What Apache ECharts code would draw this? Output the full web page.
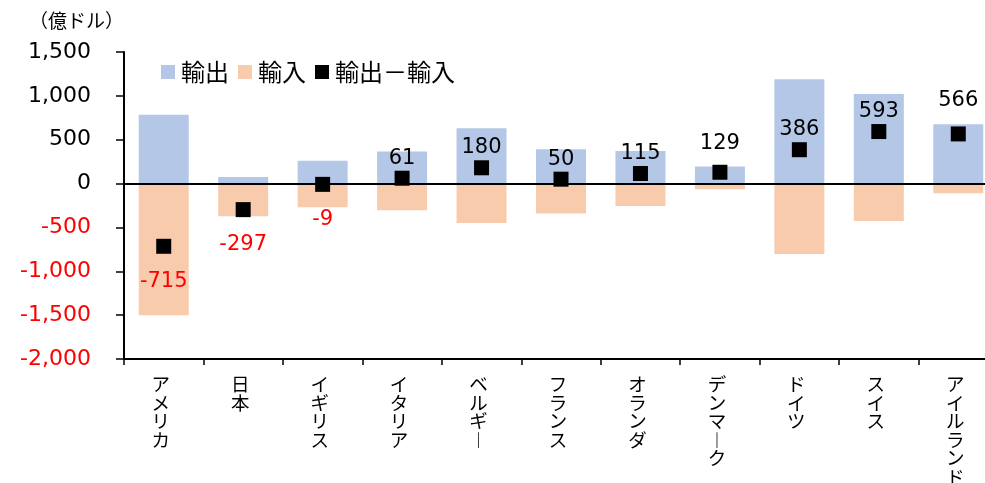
<!DOCTYPE html>
<html>
<head>
<meta charset="utf-8">
<script src="https://cdn.jsdelivr.net/npm/echarts@6/dist/echarts.min.js"></script>
<style>html,body{margin:0;padding:0;background:#fff;}#c{width:985px;height:483px;}</style>
</head>
<body>
<div id="c"></div>
<script>
const categories = ['アメリカ','日本','イギリス','イタリア','ベルギー','フランス','オランダ','デンマーク','ドイツ','スイス','アイルランド'];
const exportsVals = [785, 75, 260, 365, 630, 390, 370, 195, 1190, 1020, 675];
const importsVals = [-1500, -372, -269, -304, -450, -340, -255, -66, -804, -427, -109];
const netVals = [-715, -297, -9, 61, 180, 50, 115, 129, 386, 593, 566];
const yTicks = {min: -2000, max: 1500, interval: 500};
const seriesNames = ['輸出', '輸入', '輸出－輸入'];

const labelLift = {'デンマーク': 9, 'アイルランド': 13};
const JP = 'Noto Sans CJK JP';
const NUM = 'DejaVu Sans';

const chart = echarts.init(document.getElementById('c'), null, {renderer: 'canvas'});

const netData = netVals.map((v, i) => ({
  value: v,
  label: {
    position: v < 0 ? 'bottom' : 'top',
    distance: v < 0 ? 17 : 2 + (labelLift[categories[i]] || 0),
    color: v < 0 ? '#FF0000' : '#000000'
  }
}));

chart.setOption({
  animation: false,
  backgroundColor: '#ffffff',
  graphic: [{
    type: 'text', left: 29, top: 11,
    style: {text: '（億ドル）', fontSize: 19, fontFamily: JP, fill: '#000'}
  }],
  legend: {
    left: 156, top: 55,
    itemWidth: 14, itemHeight: 14, itemGap: 9,
    icon: 'rect',
    textStyle: {fontSize: 24, fontFamily: JP, color: '#000', padding: [0, 0, 0, 1]},
    data: seriesNames
  },
  grid: {left: 124, top: 52, width: 874, height: 307, outerBoundsMode: 'none', containLabel: false},
  xAxis: {
    type: 'category',
    data: categories,
    position: 'bottom',
    axisLine: {onZero: false, lineStyle: {color: '#000', width: 2}},
    axisTick: {show: true, length: 6, lineStyle: {color: '#000', width: 1.5}},
    axisLabel: {
      interval: 0,
      margin: 16,
      fontSize: 18.5,
      lineHeight: 18.5,
      fontFamily: JP,
      color: '#000',
      padding: [0, 6, 0, 0],
      formatter: v => v.split('').map(c => c === 'ー' ? '︱' : c).join('\n')
    },
    splitLine: {show: false}
  },
  yAxis: {
    type: 'value',
    min: yTicks.min, max: yTicks.max, interval: yTicks.interval,
    axisLine: {show: true, lineStyle: {color: '#000', width: 2}},
    axisTick: {show: true, length: 8, lineStyle: {color: '#000', width: 1.5}},
    splitLine: {show: false},
    axisLabel: {
      margin: 33,
      fontSize: 22,
      fontFamily: NUM,
      color: v => (v < 0 ? '#FF0000' : '#000000'),
      formatter: v => v.toLocaleString('en-US')
    }
  },
  series: [
    {
      name: seriesNames[0], type: 'bar', data: exportsVals,
      barWidth: 50, barGap: '-100%',
      itemStyle: {color: '#B4C7E7'},
      markLine: {
        silent: true, symbol: ['none', 'none'],
        label: {show: false},
        lineStyle: {color: '#000', width: 2, type: 'solid'},
        data: [{yAxis: 0}]
      },
      z: 2
    },
    {
      name: seriesNames[1], type: 'bar', data: importsVals,
      barWidth: 50, barGap: '-100%',
      itemStyle: {color: '#F8CBAD'},
      z: 2
    },
    {
      name: seriesNames[2], type: 'scatter', data: netData,
      symbol: 'rect', symbolSize: 15,
      itemStyle: {color: '#000', opacity: 1},
      label: {show: true, fontSize: 21, fontFamily: NUM},
      z: 5
    }
  ]
});
</script>
</body>
</html>
